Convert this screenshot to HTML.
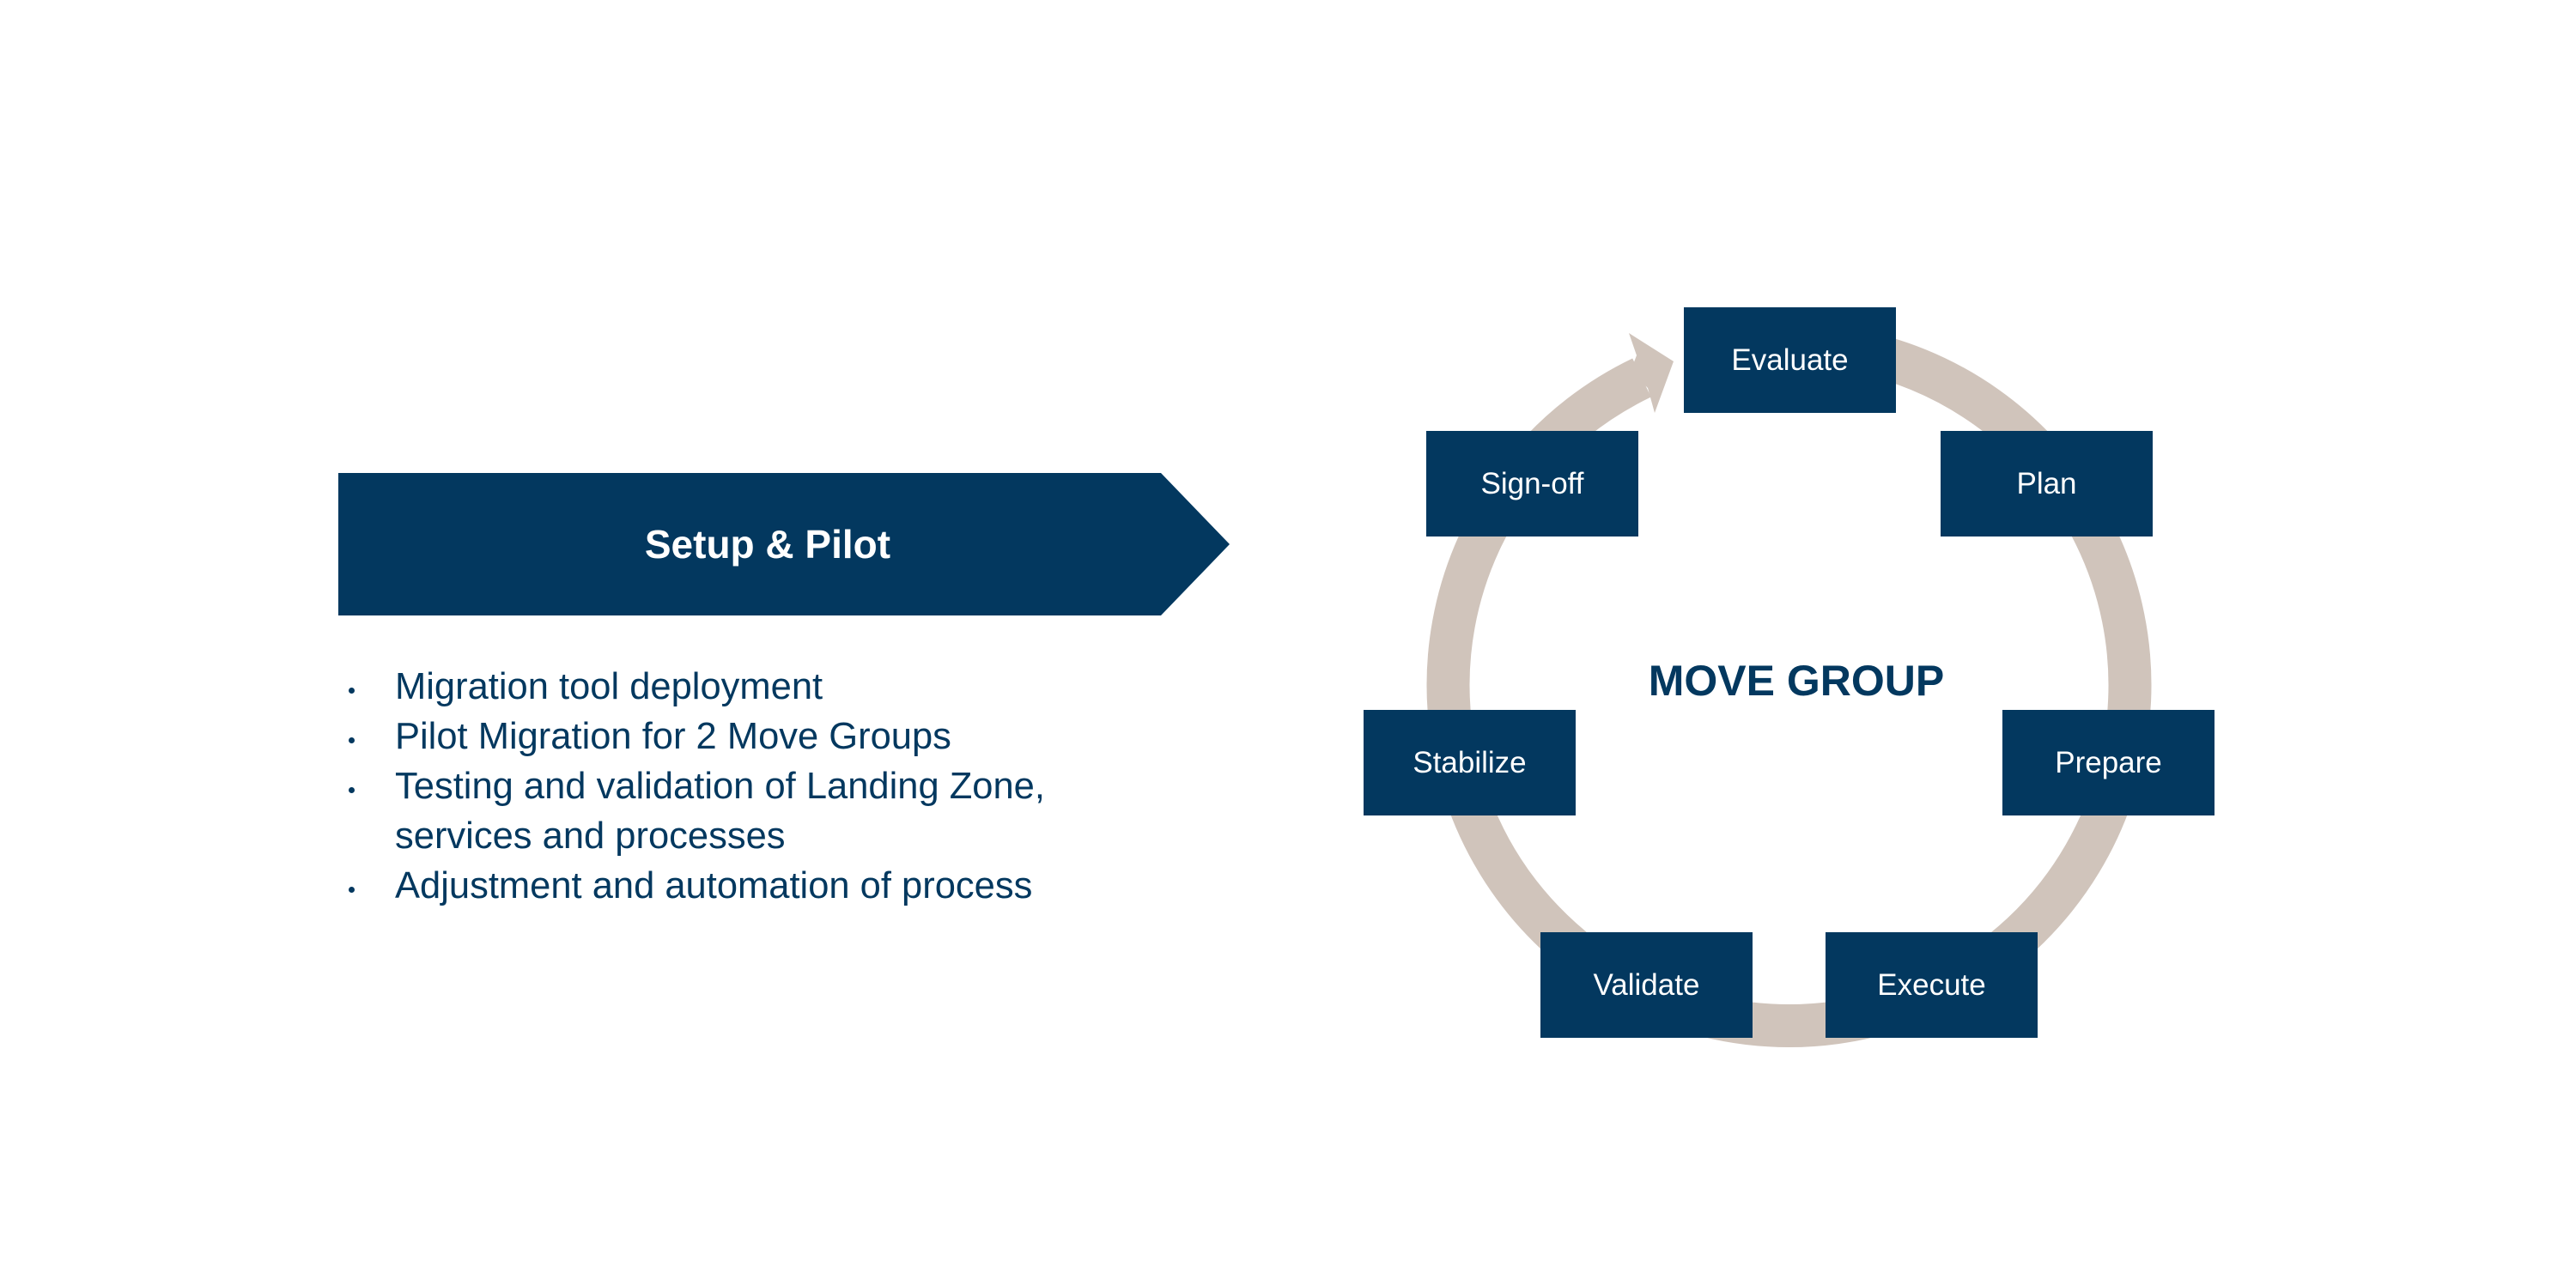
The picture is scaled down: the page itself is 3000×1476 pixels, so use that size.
<!DOCTYPE html>
<html><head><meta charset="utf-8"><style>
html,body{margin:0;padding:0;background:#fff;}
body{width:3000px;height:1476px;position:relative;overflow:hidden;font-family:"Liberation Sans",Arial,sans-serif;}
.box{position:absolute;width:247px;height:123px;background:#03385f;color:#fff;font-size:35px;display:flex;align-items:center;justify-content:center;}
.li{position:absolute;left:460px;font-size:43.5px;color:#03385f;white-space:nowrap;line-height:58px;}
.dot{position:absolute;left:406px;width:7px;height:7px;border-radius:50%;background:#03385f;}
</style></head><body>
<svg width="3000" height="1476" style="position:absolute;left:0;top:0">
<polygon points="394,551 1352,551 1432,634 1352,717 394,717" fill="#03385f"/>
<path d="M1912,440 A397,397 0 1 0 2152,407" fill="none" stroke="#d0c4bb" stroke-width="50"/>
<polygon points="1897,388 1949,421 1927,481 1919,452 1899,432 1906,414" fill="#d0c4bb"/>
<text x="894" y="650" text-anchor="middle" font-family="Liberation Sans, Arial, sans-serif" font-weight="bold" font-size="46" fill="#fff">Setup &amp; Pilot</text>
<text x="2092" y="810" text-anchor="middle" font-family="Liberation Sans, Arial, sans-serif" font-weight="bold" font-size="50" fill="#03385f">MOVE GROUP</text>
</svg>
<div class="box" style="left:1961px;top:358px">Evaluate</div>
<div class="box" style="left:2260px;top:502px">Plan</div>
<div class="box" style="left:1661px;top:502px">Sign-off</div>
<div class="box" style="left:1588px;top:827px">Stabilize</div>
<div class="box" style="left:2332px;top:827px">Prepare</div>
<div class="box" style="left:1794px;top:1086px">Validate</div>
<div class="box" style="left:2126px;top:1086px">Execute</div>
<div class="dot" style="top:801px"></div><div class="li" style="top:771px">Migration tool deployment</div>
<div class="dot" style="top:859px"></div><div class="li" style="top:829px">Pilot Migration for 2 Move Groups</div>
<div class="dot" style="top:917px"></div><div class="li" style="top:887px">Testing and validation of Landing Zone,</div>
<div class="li" style="top:945px">services and processes</div>
<div class="dot" style="top:1033px"></div><div class="li" style="top:1003px">Adjustment and automation of process</div>
</body></html>
